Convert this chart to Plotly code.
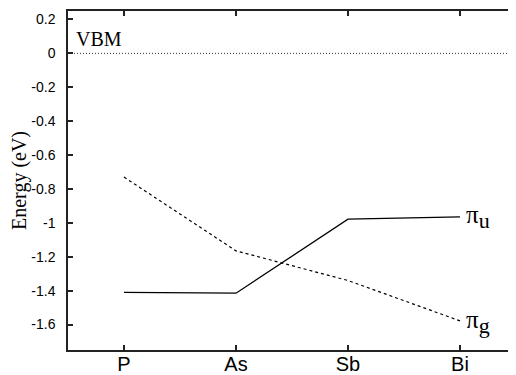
import plotly.graph_objects as go

elements = ["P", "As", "Sb", "Bi"]
pi_u = [-1.41, -1.415, -0.978, -0.965]
pi_g = [-0.73, -1.165, -1.34, -1.578]
y_ticks = [0.2, 0, -0.2, -0.4, -0.6, -0.8, -1, -1.2, -1.4, -1.6]
y_tick_text = ["0.2", "0", "-0.2", "-0.4", "-0.6", "-0.8", "-1", "-1.2", "-1.4", "-1.6"]
vbm_level = 0

xi = list(range(len(elements)))

fig = go.Figure()
fig.add_trace(go.Scatter(x=[-0.5, 3.5], y=[vbm_level, vbm_level], mode="lines",
                         line=dict(color="#333", width=1, dash="1px,2px"),
                         hoverinfo="skip"))
fig.add_trace(go.Scatter(x=xi, y=pi_u, mode="lines",
                         line=dict(color="black", width=1.3)))
fig.add_trace(go.Scatter(x=xi, y=pi_g, mode="lines",
                         line=dict(color="black", width=1.2, dash="3px,3px")))

serif = "Liberation Serif, Times New Roman, serif"
fig.add_annotation(x=-0.5, y=vbm_level, xref="x", yref="y", text="VBM",
                   showarrow=False, xanchor="left", yanchor="bottom",
                   xshift=6, yshift=1,
                   font=dict(family=serif, size=20, color="black"))
fig.add_annotation(x=xi[-1], y=pi_u[-1], text="π<sub><span style='font-size:22px'>u</span></sub>",
                   showarrow=False, xanchor="left", yanchor="middle", xshift=4, yshift=0,
                   font=dict(family=serif, size=25, color="black"))
fig.add_annotation(x=xi[-1], y=pi_g[-1], text="π<sub><span style='font-size:22px'>g</span></sub>",
                   showarrow=False, xanchor="left", yanchor="middle", xshift=4, yshift=-1,
                   font=dict(family=serif, size=25, color="black"))

axis_common = dict(showline=True, linecolor="#222", linewidth=1.5, mirror="ticks",
                   ticks="inside", ticklen=5, tickwidth=1.5, tickcolor="#222",
                   showgrid=False, zeroline=False, automargin=False)

# page body has an 8px margin: figure is sized so the plot lands where the reference has it
fig.update_layout(
    width=508, height=367,
    margin=dict(l=60, r=0, t=3, b=25, autoexpand=False),
    paper_bgcolor="white", plot_bgcolor="white",
    showlegend=False,
    xaxis=dict(range=[-0.5, 3.5], tickvals=xi, ticktext=elements,
               tickfont=dict(family="Liberation Sans, Arial", size=20, color="black"),
               ticklabelstandoff=-5,
               **axis_common),
    yaxis=dict(range=[-1.75, 0.25], tickvals=y_ticks, ticktext=y_tick_text,
               tickfont=dict(family="Liberation Sans, Arial", size=14, color="black"),
               title=dict(text="Energy (eV)", font=dict(family=serif, size=20, color="black"),
                          standoff=8),
               ticklabelstandoff=8,
               **axis_common),
)

fig.write_html("out.html")
